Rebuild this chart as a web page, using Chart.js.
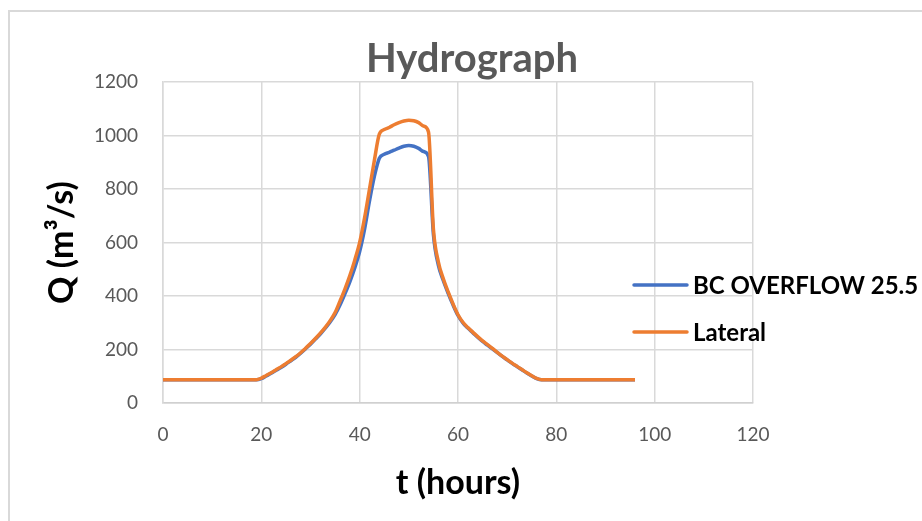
<!DOCTYPE html>
<html>
<head>
<meta charset="utf-8">
<script src="https://cdn.jsdelivr.net/npm/chart.js@4/dist/chart.umd.min.js"></script>
<style>
  html, body { margin: 0; padding: 0; background: #ffffff; }
  #wrap { position: relative; width: 922px; height: 521px; overflow: hidden; }
  #frame { position: absolute; left: 8px; top: 10px; width: 940px; height: 540px;
           border-left: 2px solid #d9d9d9; border-top: 2px solid #d9d9d9; }
  #c { position: absolute; left: 0; top: 0; }
</style>
</head>
<body>
<div id="wrap">
  <div id="frame"></div>
  <canvas id="c" width="922" height="521"></canvas>
</div>
<script>
// Time axis (hours)
const hours = [];
for (let h = 0; h <= 96; h++) hours.push(h);

// Discharge series (m3/s), one value per hour
const bcOverflow = [
  87, 87, 87, 87, 87, 87, 87, 87, 87, 87,
  87, 87, 87, 87, 87, 87, 87, 87, 87, 87,
  91, 101, 111, 122, 133, 145, 158, 171, 186, 203,
  220, 239, 258, 280, 303, 330, 366, 408, 453, 505,
  566, 650, 755, 848, 915, 930, 937, 945, 953, 960,
  963, 960, 952, 940, 922, 630, 515, 458, 410, 366,
  327, 299, 280, 263, 246, 230, 216, 202, 188, 174,
  161, 148, 136, 124, 112, 101, 91, 87, 87, 87,
  87, 87, 87, 87, 87, 87, 87, 87, 87, 87,
  87, 87, 87, 87, 87, 87, 87
];
const lateral = [
  87, 87, 87, 87, 87, 87, 87, 87, 87, 87,
  87, 87, 87, 87, 87, 87, 87, 87, 87, 87,
  93, 103, 113, 124, 135, 147, 160, 173, 188, 205,
  222, 241, 261, 283, 308, 338, 381, 426, 476, 534,
  600, 692, 800, 908, 1005, 1022, 1030, 1040, 1048, 1054,
  1057, 1055, 1048, 1035, 1013, 650, 528, 465, 415, 370,
  330, 302, 282, 265, 248, 232, 218, 204, 189, 175,
  162, 149, 137, 125, 113, 102, 92, 87, 87, 87,
  87, 87, 87, 87, 87, 87, 87, 87, 87, 87,
  87, 87, 87, 87, 87, 87, 87
];

const chartTitle = 'Hydrograph';
const seriesNames = ['BC OVERFLOW 25.5', 'Lateral'];
const seriesColors = ['#4472C4', '#ED7D31'];
const xTicks = [0, 20, 40, 60, 80, 100, 120];
const yTicks = [0, 200, 400, 600, 800, 1000, 1200];

const toPoints = (vals) => hours.map((h, i) => ({ x: h, y: vals[i] }));

// Title above the plot and the legend to its right
const annotations = {
  id: 'annotations',
  afterDraw(chart) {
    const ctx = chart.ctx;
    const area = chart.chartArea;
    ctx.save();
    ctx.fillStyle = '#595959';
    ctx.font = 'bold 40px Lato';
    ctx.textAlign = 'center';
    ctx.textBaseline = 'middle';
    ctx.fillText(chartTitle, area.left + 309, area.top - 23);

    const x0 = area.right - 119;
    const rows = [area.top + 203, area.top + 250];
    chart.data.datasets.forEach((ds, i) => {
      const y = rows[i];
      ctx.strokeStyle = ds.borderColor;
      ctx.lineWidth = 3.5;
      ctx.lineCap = 'round';
      ctx.beginPath();
      ctx.moveTo(x0, y);
      ctx.lineTo(x0 + 53, y);
      ctx.stroke();
      ctx.fillStyle = '#000000';
      ctx.font = 'bold 24px Lato';
      ctx.textBaseline = 'middle';
      ctx.textAlign = 'left';
      ctx.fillText(ds.label, x0 + 59, y + 1);
    });
    ctx.restore();
  }
};

new Chart(document.getElementById('c'), {
  type: 'line',
  data: {
    datasets: [
      { label: seriesNames[0], data: toPoints(bcOverflow), borderColor: seriesColors[0],
        backgroundColor: seriesColors[0], borderWidth: 3.5, pointRadius: 0, order: 1,
        cubicInterpolationMode: 'monotone', fill: false },
      { label: seriesNames[1], data: toPoints(lateral), borderColor: seriesColors[1],
        backgroundColor: seriesColors[1], borderWidth: 3.5, pointRadius: 0, order: 0,
        cubicInterpolationMode: 'monotone', fill: false }
    ]
  },
  options: {
    responsive: false,
    animation: false,
    layout: { padding: { left: 8, right: 169, top: 82, bottom: 0 } },
    plugins: {
      legend: { display: false },
      tooltip: { enabled: false },
      title: { display: false }
    },
    scales: {
      x: {
        type: 'linear',
        min: 0, max: 120,
        afterBuildTicks: (s) => { s.ticks = xTicks.map(v => ({ value: v })); },
        afterFit: (s) => { s.height = 118; },
        grid: { color: '#d9d9d9', lineWidth: 1.5, drawTicks: false },
        border: { color: '#d0d0d0', width: 1.5 },
        ticks: { color: '#595959', padding: 20, maxRotation: 0,
                 font: { family: 'Lato', size: 19 },
                 callback: (v) => String(v) },
        title: { display: true, text: 't (hours)', color: '#000000',
                 font: { family: 'Lato', size: 34, weight: 'bold', lineHeight: 1.2 },
                 padding: { top: 0, bottom: 18 } }
      },
      y: {
        min: 0, max: 1200,
        afterBuildTicks: (s) => { s.ticks = yTicks.map(v => ({ value: v })); },
        afterFit: (s) => { s.width = 155; },
        grid: { color: '#d9d9d9', lineWidth: 1.5, drawTicks: false },
        border: { color: '#d9d9d9', width: 1.5 },
        ticks: { color: '#595959', padding: 25,
                 font: { family: 'Lato', size: 19 },
                 callback: (v) => String(v) },
        title: { display: true, text: 'Q (m³/s)', color: '#000000',
                 font: { family: 'Lato', size: 34, weight: 'bold', lineHeight: 1.2 },
                 padding: { top: 34, bottom: 0 } }
      }
    }
  },
  plugins: [annotations]
});
</script>
</body>
</html>
